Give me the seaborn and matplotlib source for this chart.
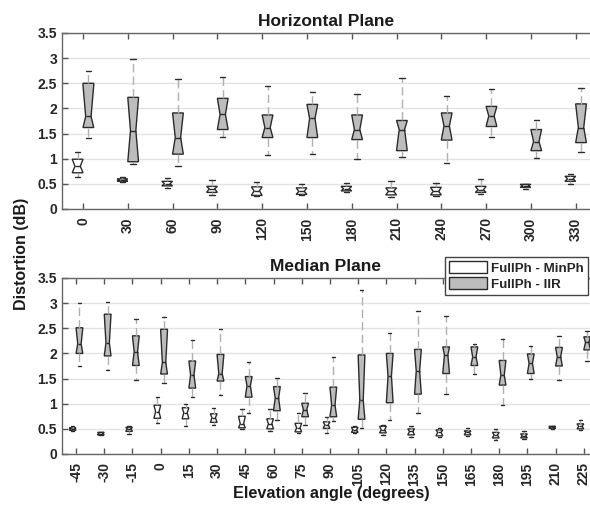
import pandas as pd
import matplotlib
matplotlib.use("Agg")
import matplotlib.pyplot as plt
import seaborn as sns
from matplotlib.patches import Patch, PathPatch
from matplotlib.path import Path
from matplotlib.ticker import FormatStrFormatter, MultipleLocator

# Box statistics: [whisker low, q1, median, q3, whisker high]
h_angles = [0, 30, 60, 90, 120, 150, 180, 210, 240, 270, 300, 330]
h_minph = [
    [0.64, 0.72, 0.85, 0.99, 1.14],
    [0.53, 0.55, 0.57, 0.60, 0.63],
    [0.42, 0.46, 0.50, 0.55, 0.62],
    [0.28, 0.33, 0.40, 0.45, 0.57],
    [0.26, 0.27, 0.36, 0.44, 0.54],
    [0.27, 0.29, 0.35, 0.42, 0.50],
    [0.33, 0.36, 0.40, 0.45, 0.51],
    [0.24, 0.28, 0.35, 0.42, 0.55],
    [0.26, 0.28, 0.35, 0.43, 0.52],
    [0.30, 0.33, 0.38, 0.45, 0.60],
    [0.40, 0.43, 0.46, 0.49, 0.50],
    [0.50, 0.55, 0.60, 0.65, 0.70],
]
h_iir = [
    [1.42, 1.62, 1.84, 2.50, 2.75],
    [0.89, 0.94, 1.56, 2.22, 2.99],
    [0.85, 1.09, 1.42, 1.91, 2.58],
    [1.44, 1.58, 1.88, 2.20, 2.63],
    [1.07, 1.42, 1.62, 1.87, 2.45],
    [1.09, 1.42, 1.80, 2.08, 2.33],
    [0.99, 1.38, 1.58, 1.87, 2.28],
    [1.03, 1.16, 1.58, 1.76, 2.60],
    [0.92, 1.37, 1.65, 1.91, 2.25],
    [1.44, 1.64, 1.85, 2.04, 2.39],
    [1.02, 1.16, 1.34, 1.58, 1.77],
    [1.14, 1.32, 1.62, 2.09, 2.40],
]

m_angles = [-45, -30, -15, 0, 15, 30, 45, 60, 75, 90, 105, 120, 135, 150, 165, 180, 195, 210, 225]
m_minph = [
    [0.45, 0.47, 0.50, 0.52, 0.55],
    [0.37, 0.38, 0.40, 0.43, 0.44],
    [0.40, 0.45, 0.50, 0.53, 0.55],
    [0.61, 0.71, 0.84, 0.97, 1.14],
    [0.55, 0.70, 0.82, 0.92, 1.00],
    [0.58, 0.63, 0.72, 0.80, 0.92],
    [0.50, 0.52, 0.60, 0.75, 0.90],
    [0.45, 0.50, 0.60, 0.70, 0.90],
    [0.42, 0.44, 0.52, 0.61, 0.82],
    [0.41, 0.51, 0.58, 0.64, 0.73],
    [0.42, 0.43, 0.48, 0.53, 0.55],
    [0.38, 0.42, 0.48, 0.55, 0.57],
    [0.33, 0.38, 0.45, 0.50, 0.55],
    [0.33, 0.36, 0.43, 0.48, 0.52],
    [0.35, 0.38, 0.43, 0.46, 0.52],
    [0.28, 0.32, 0.38, 0.43, 0.50],
    [0.30, 0.32, 0.36, 0.40, 0.45],
    [0.50, 0.51, 0.53, 0.55, 0.56],
    [0.47, 0.50, 0.55, 0.60, 0.68],
]
m_iir = [
    [1.74, 2.00, 2.19, 2.51, 3.01],
    [1.68, 1.95, 2.21, 2.78, 3.03],
    [1.47, 1.76, 2.03, 2.35, 2.68],
    [1.41, 1.59, 1.82, 2.48, 2.73],
    [1.14, 1.31, 1.57, 1.85, 2.27],
    [1.17, 1.45, 1.60, 1.98, 2.49],
    [0.81, 1.13, 1.36, 1.54, 1.82],
    [0.68, 0.86, 1.11, 1.34, 1.52],
    [0.58, 0.74, 0.88, 1.01, 1.22],
    [0.66, 0.74, 0.97, 1.33, 1.92],
    [0.51, 0.69, 1.07, 1.97, 3.27],
    [0.68, 1.02, 1.55, 2.00, 2.41],
    [0.81, 1.19, 1.65, 2.08, 2.84],
    [1.19, 1.60, 1.97, 2.13, 2.74],
    [1.60, 1.76, 1.93, 2.13, 2.19],
    [0.97, 1.37, 1.57, 1.86, 2.28],
    [1.49, 1.60, 1.80, 1.99, 2.15],
    [1.47, 1.75, 1.93, 2.12, 2.35],
    [1.84, 2.07, 2.22, 2.33, 2.45],
]

series_names = ["FullPh - MinPh", "FullPh - IIR"]
series_colors = {"FullPh - MinPh": "white", "FullPh - IIR": "#bdbdbd"}


def to_long(angles, minph, iir):
    rows = []
    for name, stats in zip(series_names, [minph, iir]):
        for ang, vals in zip(angles, stats):
            for v in vals:
                rows.append({"angle": str(ang), "method": name, "value": v})
    return pd.DataFrame(rows)


def clip_notches(ax):
    # keep the notch inside the box, like the MATLAB original
    for p in ax.patches:
        if not isinstance(p, PathPatch):
            continue
        path = p.get_path()
        v = path.vertices.copy()
        if len(v) < 11:
            continue
        q1, q3 = v[0, 1], v[5, 1]
        for i in (2, 9):
            v[i, 1] = max(v[i, 1], q1)
        for i in (4, 7):
            v[i, 1] = min(v[i, 1], q3)
        p.set_path(Path(v, path.codes))


sns.set_style("white")
plt.rcParams["font.family"] = ["Liberation Sans", "DejaVu Sans"]
plt.rcParams["font.weight"] = "bold"

fig = plt.figure(figsize=(5.9, 5.08), dpi=100)
ax_h = fig.add_axes([0.105, 0.5886, 0.895, 0.3465])
ax_m = fig.add_axes([0.105, 0.1063, 0.895, 0.3465])

box_kw = dict(
    hue="method", hue_order=series_names, palette=series_colors,
    saturation=1, width=0.48, notch=True, whis=(0, 100),
    linecolor="#2b2b2b", linewidth=1.0, legend=False,
    whiskerprops=dict(color="#b0b0b0", linestyle=(0, (6, 3)), linewidth=1.0),
    capprops=dict(color="#2b2b2b", linewidth=1.0),
    medianprops=dict(color="#2b2b2b", linewidth=1.0),
)

panels = [
    (ax_h, to_long(h_angles, h_minph, h_iir), h_angles, "Horizontal Plane", (-0.47, 11.32)),
    (ax_m, to_long(m_angles, m_minph, m_iir), m_angles, "Median Plane", (-0.5, 18.22)),
]

for ax, df, angles, title, xlim in panels:
    ax.yaxis.grid(True, color="#e3e3e3", linewidth=1.0, zorder=0)
    ax.set_axisbelow(True)
    sns.boxplot(data=df, x="angle", y="value", order=[str(a) for a in angles], ax=ax, **box_kw)
    clip_notches(ax)
    ax.set_xlim(*xlim)
    ax.set_ylim(0, 3.5)
    ax.yaxis.set_major_locator(MultipleLocator(0.5))
    ax.yaxis.set_major_formatter(FormatStrFormatter("%g"))
    ax.set_xlabel("")
    ax.set_ylabel("")
    ax.set_title(title, fontsize=12.5, fontweight="bold", color="#1a1a1a", pad=5)
    ax.tick_params(axis="x", direction="in", top=True, bottom=True, length=4,
                   width=1, color="#555555", labelsize=10, labelcolor="#262626",
                   labelrotation=90, pad=6)
    ax.tick_params(axis="y", direction="in", left=True, right=False, length=4,
                   width=1, color="#555555", labelsize=10, labelcolor="#262626")
    for lab in ax.get_xticklabels() + ax.get_yticklabels():
        lab.set_fontweight("bold")
    for side in ["left", "bottom", "top"]:
        ax.spines[side].set_color("#666666")
        ax.spines[side].set_linewidth(1.0)
    ax.spines["right"].set_visible(False)

fig.text(0.037, 0.5, "Distortion (dB)", rotation=90, ha="center", va="center",
         fontsize=11.5, fontweight="bold", color="#1a1a1a")
fig.text(0.562, 0.028, "Elevation angle (degrees)", ha="center", va="center",
         fontsize=11.7, fontweight="bold", color="#1a1a1a")

handles = [Patch(facecolor=series_colors[n], edgecolor="#2b2b2b", linewidth=1.0, label=n)
           for n in series_names]
leg = fig.legend(handles=handles, loc="upper right", bbox_to_anchor=(0.997, 0.494),
                 frameon=True, fancybox=False, edgecolor="#444444", framealpha=1,
                 borderaxespad=0, handlelength=2.85, handleheight=1.0,
                 handletextpad=0.35, labelspacing=0.2, borderpad=0.3,
                 prop={"weight": "bold", "size": 9.6})
leg.get_frame().set_linewidth(1.0)

fig.savefig("out.png", dpi=100)
